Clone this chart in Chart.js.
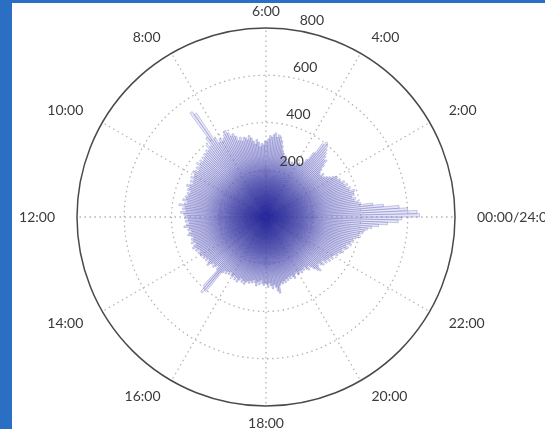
<!DOCTYPE html>
<html>
<head>
<meta charset="utf-8">
<script src="https://cdn.jsdelivr.net/npm/chart.js@4"></script>
<style>
  body { margin: 0; width: 545px; height: 429px; background: #2b6fc4; overflow: hidden; position: relative; }
  #panel { position: absolute; left: 12px; top: 3px; right: 0; bottom: 0; background: #fff; }
  #rose { position: absolute; left: 0; top: 0; }
</style>
</head>
<body>
<div id="panel"></div>
<canvas id="rose" width="545" height="429"></canvas>
<script>
// counts per 5-minute bin, starting at 00:00 (one row per hour)
const counts = [
  650, 640, 600, 565, 500, 455, 405, 395, 380, 388, 372, 385,   // 0
  385, 392, 370, 378, 360, 372, 355, 365, 348, 352, 340, 346,   // 1
  335, 320, 310, 300, 292, 305, 288, 296, 310, 330, 352, 345,   // 2
  360, 372, 385, 398, 408, 392, 340, 300, 275, 262, 270, 255,   // 3
  250, 262, 248, 258, 245, 255, 265, 250, 262, 272, 268, 280,   // 4
  290, 310, 330, 345, 352, 340, 358, 350, 338, 345, 330, 318,   // 5
  322, 305, 312, 298, 318, 330, 312, 325, 340, 352, 335, 345,   // 6
  350, 335, 355, 342, 365, 380, 372, 390, 405, 392, 380, 370,   // 7
  385, 372, 395, 530, 545, 420, 380, 395, 372, 380, 368, 375,   // 8
  362, 370, 355, 368, 358, 372, 350, 362, 345, 358, 365, 352,   // 9
  348, 360, 342, 355, 338, 350, 362, 345, 352, 335, 348, 340,   // 10
  352, 345, 360, 338, 350, 372, 345, 355, 340, 362, 348, 335,   // 11
  345, 330, 342, 325, 338, 350, 328, 335, 320, 332, 340, 326,   // 12
  318, 330, 322, 335, 315, 328, 338, 320, 330, 312, 325, 318,   // 13
  322, 310, 318, 305, 315, 300, 312, 322, 305, 295, 310, 300,   // 14
  290, 305, 395, 420, 405, 300, 285, 295, 280, 290, 275, 288,   // 15
  292, 280, 298, 285, 302, 290, 278, 295, 285, 300, 288, 280,   // 16
  290, 276, 285, 270, 282, 295, 275, 288, 268, 282, 290, 278,   // 17
  285, 298, 280, 292, 305, 288, 300, 318, 328, 295, 285, 292,   // 18
  280, 290, 275, 285, 270, 282, 268, 278, 288, 272, 265, 280,   // 19
  275, 268, 282, 270, 278, 265, 280, 290, 272, 285, 300, 315,   // 20
  325, 305, 295, 310, 318, 300, 322, 312, 330, 318, 335, 325,   // 21
  330, 345, 338, 352, 360, 348, 365, 372, 358, 380, 372, 385,   // 22
  380, 392, 408, 400, 415, 420, 432, 450, 478, 515, 560, 575    // 23
];
const hourLabels = ['00:00/24:00', '2:00', '4:00', '6:00', '8:00', '10:00',
                    '12:00', '14:00', '16:00', '18:00', '20:00', '22:00'];
const radialMax = 800;
const radialStep = 200;

const binLabels = counts.map((c, i) => {
  const m = i * 5;
  return Math.floor(m / 60) + ':' + String(m % 60).padStart(2, '0');
});

// time runs counter-clockwise from the right, chart.js goes clockwise -> reverse
const revCounts = counts.slice().reverse();
const revLabels = binLabels.slice().reverse();

const labelFont = '14px Lato, "Open Sans", sans-serif';
const textColor = '#3a3a3a';

// fill darkens towards the middle where the thin bars pile up
function barFill(ctx) {
  const s = ctx.chart.scales.r;
  if (!s || !isFinite(s.xCenter)) return 'rgba(185,185,235,0.4)';
  const r = s.getDistanceFromCenterForValue(400);
  const g = ctx.chart.ctx.createRadialGradient(s.xCenter, s.yCenter, 0, s.xCenter, s.yCenter, r);
  g.addColorStop(0, '#2a2a8c');
  g.addColorStop(0.2, '#2f2f96');
  g.addColorStop(0.38, 'rgba(85,85,175,0.85)');
  g.addColorStop(0.65, 'rgba(160,160,220,0.5)');
  g.addColorStop(1, 'rgba(190,190,235,0.38)');
  return g;
}

// dotted spokes every 2 hours
const spokes = {
  id: 'spokes',
  beforeDatasetsDraw(chart) {
    const s = chart.scales.r;
    const R = s.drawingArea;
    const ctx = chart.ctx;
    ctx.save();
    ctx.strokeStyle = '#b4b4b4';
    ctx.lineWidth = 1.3;
    ctx.setLineDash([1.5, 3.5]);
    for (let h = 0; h < 12; h++) {
      const a = h * Math.PI / 6;
      ctx.beginPath();
      ctx.moveTo(s.xCenter, s.yCenter);
      ctx.lineTo(s.xCenter + Math.cos(a) * R, s.yCenter - Math.sin(a) * R);
      ctx.stroke();
    }
    ctx.restore();
  }
};

// hour labels round the circle + radial tick values
const labels = {
  id: 'labels',
  afterDraw(chart) {
    const s = chart.scales.r;
    const R = s.drawingArea;
    const ctx = chart.ctx;
    ctx.save();
    ctx.font = labelFont;
    ctx.fillStyle = textColor;
    hourLabels.forEach((txt, h) => {
      const a = h * Math.PI / 6;
      const c = Math.cos(a), sn = Math.sin(a);
      const x = s.xCenter + c * (R + 22);
      const y = s.yCenter - sn * (R + 10);
      ctx.textAlign = c > 0.01 ? 'left' : (c < -0.01 ? 'right' : 'center');
      ctx.textBaseline = sn > 0.01 ? 'bottom' : (sn < -0.01 ? 'top' : 'middle');
      ctx.fillText(txt, x, y);
    });
    ctx.textAlign = 'center';
    ctx.textBaseline = 'middle';
    s.ticks.forEach(t => {
      if (t.value === 0) return;
      const r = s.getDistanceFromCenterForValue(t.value);
      ctx.fillText(t.label, s.xCenter + 19 + 0.142 * r, s.yCenter - r - 8);
    });
    ctx.restore();
  }
};

new Chart(document.getElementById('rose'), {
  type: 'polarArea',
  data: {
    labels: revLabels,
    datasets: [{
      data: revCounts,
      backgroundColor: barFill,
      borderColor: 'rgba(45,45,160,0.45)',
      borderWidth: 0.5
    }]
  },
  options: {
    responsive: false,
    animation: false,
    devicePixelRatio: 1,
    layout: { padding: { left: 76, right: 89, top: 28, bottom: 22 } },
    plugins: { legend: { display: false }, tooltip: { enabled: false } },
    scales: {
      r: {
        min: 0,
        max: radialMax,
        startAngle: 90,
        ticks: { display: false, stepSize: radialStep },
        pointLabels: { display: false },
        angleLines: { display: false },
        grid: {
          circular: true,
          color: ctx => ctx.tick.value === radialMax ? '#4a4a4a' : '#b4b4b4',
          lineWidth: ctx => ctx.tick.value === radialMax ? 1.5 : 1.3
        },
        border: {
          dash: ctx => ctx.tick.value === radialMax ? [] : [1.5, 3.5]
        }
      }
    }
  },
  plugins: [spokes, labels]
});
</script>
</body>
</html>
